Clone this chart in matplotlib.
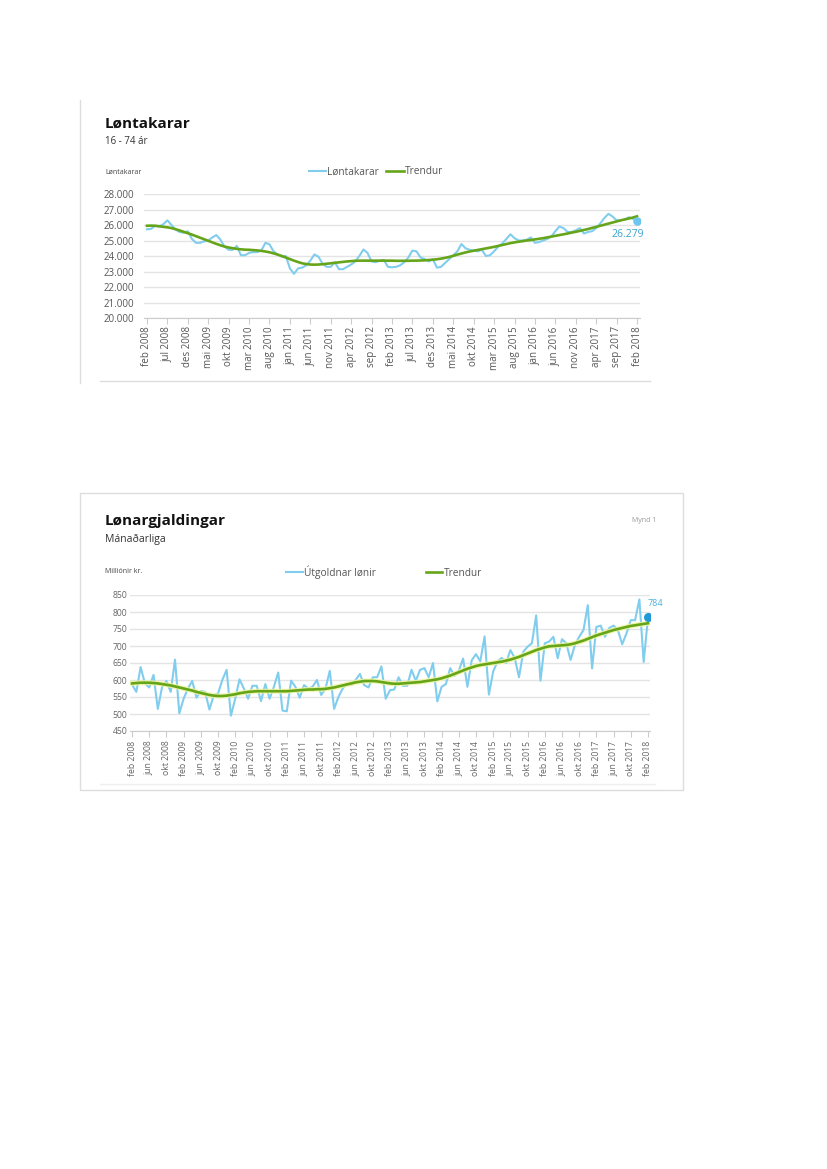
import matplotlib
matplotlib.use("Agg")
import matplotlib.pyplot as plt
from matplotlib.lines import Line2D
from matplotlib.patches import Rectangle
import numpy as np

plt.rcParams['font.family'] = ['Open Sans', 'DejaVu Sans']

# Løntakarar, monthly feb 2008 - feb 2018
lontakarar = [
    25720, 25750, 25950, 25900, 26050, 26300, 26000, 25700, 25550, 25500, 25600,
    25100, 24850, 24850, 24950, 25000, 25200, 25350, 25050, 24600, 24400, 24400, 24650,
    24050, 24050, 24200, 24250, 24250, 24350, 24850, 24750, 24300, 24100, 23950, 24000,
    23200, 22850, 23200, 23250, 23400, 23700, 24100, 23950, 23500, 23300, 23300, 23600,
    23150, 23150, 23300, 23450, 23650, 24000, 24420, 24200, 23650, 23600, 23700, 23750,
    23300, 23270, 23300, 23400, 23600, 23900, 24350, 24300, 23900, 23800, 23650, 23800,
    23250, 23300, 23550, 23800, 24050, 24300, 24770, 24500, 24400, 24350, 24300, 24400,
    24000, 24050, 24300, 24600, 24800, 25100, 25400, 25150, 25000, 25000, 25050, 25200,
    24850, 24900, 25000, 25100, 25250, 25600, 25900, 25800, 25550, 25550, 25650, 25800,
    25450, 25550, 25600, 25800, 26100, 26450, 26720, 26550, 26300, 26300, 26350, 26500,
    26400, 26279,
]
lontakarar_trend = [
    25950, 25960, 25950, 25920, 25880, 25850, 25800, 25730, 25650, 25560, 25470,
    25380, 25280, 25180, 25080, 24980, 24880, 24780, 24690, 24610, 24550, 24500, 24460,
    24430, 24410, 24400, 24380, 24360, 24330, 24290, 24240, 24170, 24090, 24000, 23900,
    23800, 23700, 23610, 23530, 23480, 23450, 23440, 23450, 23470, 23500, 23530, 23560,
    23590, 23620, 23650, 23670, 23690, 23700, 23700, 23700, 23700, 23700, 23700, 23700,
    23700, 23700, 23690, 23690, 23690, 23690, 23700, 23700, 23710, 23720, 23740, 23760,
    23790, 23830, 23880, 23940, 24010, 24090, 24160, 24230, 24290, 24340, 24390, 24440,
    24490, 24540, 24590, 24650, 24710, 24770, 24830, 24880, 24920, 24960, 25000, 25030,
    25070, 25110, 25150, 25200, 25250, 25300, 25350, 25400, 25450, 25510, 25560, 25620,
    25680, 25740, 25810, 25880, 25950, 26020, 26090, 26160, 26230, 26300, 26360, 26420,
    26480, 26560,
]
lontakarar_xlabels = ['feb 2008', 'jul 2008', 'des 2008', 'mai 2009', 'okt 2009',
                      'mar 2010', 'aug 2010', 'jan 2011', 'jun 2011', 'nov 2011',
                      'apr 2012', 'sep 2012', 'feb 2013', 'jul 2013', 'des 2013',
                      'mai 2014', 'okt 2014', 'mar 2015', 'aug 2015', 'jan 2016',
                      'jun 2016', 'nov 2016', 'apr 2017', 'sep 2017', 'feb 2018']
lontakarar_yticks = [20000, 21000, 22000, 23000, 24000, 25000, 26000, 27000, 28000]

# Lønargjaldingar (milliónir kr.), monthly feb 2008 - feb 2018
lonir = [
    587, 565, 638, 590, 578, 615, 515, 580, 597, 565, 660,
    502, 545, 575, 597, 548, 568, 565, 513, 555, 560, 600, 630,
    495, 545, 602, 575, 545, 583, 583, 538, 588, 545, 580, 622,
    510, 508, 598, 580, 548, 585, 575, 580, 600, 556, 575, 627,
    515, 550, 575, 590, 585, 600, 618, 585, 578, 608, 608, 640,
    545, 570, 572, 608, 583, 583, 630, 598, 630, 635, 608, 650,
    537, 580, 588, 635, 612, 627, 663, 580, 658, 676, 655, 728,
    557, 625, 655, 665, 650, 688, 665, 608, 683, 698, 708, 790,
    598, 708, 713, 727, 664, 720, 708, 659, 703, 727, 747, 820,
    634, 756, 760, 727, 753, 760, 747, 705, 737, 776, 776, 837,
    653, 784,
]
lonir_trend = [
    590, 591, 592, 592, 592, 591, 590, 588, 586, 584, 581,
    578, 575, 572, 569, 565, 562, 559, 556, 554, 553, 553, 554,
    556, 558, 561, 563, 565, 566, 567, 567, 567, 567, 567, 567,
    567, 567, 568, 569, 570, 571, 572, 572, 573, 573, 574, 576,
    578, 581, 584, 587, 590, 593, 595, 597, 597, 597, 596, 594,
    592, 590, 589, 589, 590, 591, 592, 593, 594, 596, 598, 600,
    602, 605, 609, 613, 618, 623, 628, 633, 637, 641, 644, 646,
    648, 650, 652, 654, 657, 660, 664, 668, 673, 678, 683, 688,
    692, 696, 699, 700, 701, 702, 703, 705, 708, 712, 716, 721,
    726, 731, 735, 739, 743, 747, 750, 753, 756, 759, 761, 763,
    765, 767,
]
lonir_xlabels = ['feb 2008', 'jun 2008', 'okt 2008', 'feb 2009', 'jun 2009', 'okt 2009',
                 'feb 2010', 'jun 2010', 'okt 2010', 'feb 2011', 'jun 2011', 'okt 2011',
                 'feb 2012', 'jun 2012', 'okt 2012', 'feb 2013', 'jun 2013', 'okt 2013',
                 'feb 2014', 'jun 2014', 'okt 2014', 'feb 2015', 'jun 2015', 'okt 2015',
                 'feb 2016', 'jun 2016', 'okt 2016', 'feb 2017', 'jun 2017', 'okt 2017',
                 'feb 2018']
lonir_yticks = [450, 500, 550, 600, 650, 700, 750, 800, 850]

BLUE = '#80cdee'
GREEN = '#66a51a'
GRID = '#e4e4e4'
TXT = '#555555'
FRAME = '#dddddd'

W, H = 827, 1169
fig = plt.figure(figsize=(W / 100, H / 100), dpi=100)


def fx(px):
    return px / W


def fy(py):
    return 1 - py / H


def axes_px(x0, y0, x1, y1):
    return fig.add_axes([fx(x0), fy(y1), fx(x1) - fx(x0), fy(y0) - fy(y1)])


def style(ax, fs, ypad, xpad, lblcolor):
    for s in ['top', 'right', 'left']:
        ax.spines[s].set_visible(False)
    ax.spines['bottom'].set_color('#cccccc')
    ax.yaxis.grid(True, color=GRID, lw=1.0)
    ax.set_axisbelow(True)
    ax.tick_params(axis='y', length=0, pad=ypad, labelsize=fs, labelcolor=lblcolor)
    ax.tick_params(axis='x', length=4, color='#cccccc', pad=xpad, labelsize=fs,
                   labelcolor=lblcolor, labelrotation=90)


# ---------- chart 1 ----------
fig.add_artist(Line2D([fx(80), fx(80)], [fy(100), fy(383)], color=FRAME, lw=1))
fig.add_artist(Line2D([fx(100), fx(650)], [fy(381), fy(381)], color=FRAME, lw=1))

fig.text(fx(105), fy(124), 'Løntakarar', fontsize=11, weight='bold', va='center', color='#111111')
fig.text(fx(105), fy(142), '16 - 74 ár', fontsize=7, va='center', color='#333333')
fig.text(fx(105), fy(172), 'Løntakarar', fontsize=5, va='center', color='#444444')

ax1 = axes_px(144, 194, 640, 318)
x1 = np.arange(len(lontakarar))
ax1.plot(x1, lontakarar, color=BLUE, lw=1.5, label='Løntakarar')
ax1.plot(x1, lontakarar_trend, color=GREEN, lw=1.9, label='Trendur')
ax1.scatter([x1[-1]], [lontakarar[-1]], s=26, color='#6cc6ee', zorder=5)
ax1.annotate('26.279', xy=(x1[-1], lontakarar[-1]), xytext=(-7, -10),
             textcoords='offset points', ha='center', va='center', fontsize=7.5,
             color='#3aa3d0', arrowprops=dict(arrowstyle='-', color='#aaaaaa', lw=0.6,
                                              shrinkA=4, shrinkB=3))
ax1.set_xlim(-0.73, 120.73)
ax1.set_ylim(20000, 28000)
ax1.set_yticks(lontakarar_yticks)
ax1.set_yticklabels([f'{v:,}'.replace(',', '.') for v in lontakarar_yticks])
ax1.set_xticks(np.arange(0, 121, 5))
ax1.set_xticklabels(lontakarar_xlabels)
style(ax1, 7, 7, 2, TXT)
ax1.legend(loc='center', bbox_to_anchor=(fx(376), fy(172)), bbox_transform=fig.transFigure,
           ncol=2, frameon=False, fontsize=7.3, handlelength=1.7, handletextpad=0.1,
           columnspacing=0.7, labelcolor=TXT)

# ---------- chart 2 ----------
fig.add_artist(Rectangle((fx(80), fy(790)), fx(683) - fx(80), fy(493) - fy(790),
                         fill=False, edgecolor=FRAME, lw=1))
fig.add_artist(Line2D([fx(100), fx(655)], [fy(784), fy(784)], color='#eeeeee', lw=1))

fig.text(fx(105), fy(521), 'Lønargjaldingar', fontsize=11, weight='bold', va='center', color='#111111')
fig.text(fx(105), fy(539), 'Mánaðarliga', fontsize=7.5, va='center', color='#333333')
fig.text(fx(656), fy(521), 'Mynd 1', fontsize=5, va='center', ha='right', color='#999999')
fig.text(fx(105), fy(572), 'Milliónir kr.', fontsize=5, va='center', color='#444444')

ax2 = axes_px(130, 595, 650, 731)
x2 = np.arange(len(lonir))
ax2.plot(x2, lonir, color=BLUE, lw=1.5, label='Útgoldnar lønir')
ax2.plot(x2, lonir_trend, color='#eef59c', lw=3.6, alpha=0.85)
ax2.plot(x2, lonir_trend, color=GREEN, lw=1.9, label='Trendur')
ax2.scatter([x2[-1]], [lonir[-1]], s=30, color='#1f9ad6', zorder=5)
ax2.annotate('784', xy=(x2[-1], lonir[-1]), xytext=(5, 10), textcoords='offset points',
             ha='center', va='center', fontsize=6.5, color='#4aaedc')
ax2.set_xlim(-0.47, 120.47)
ax2.set_ylim(450, 850)
ax2.set_yticks(lonir_yticks)
ax2.set_xticks(np.arange(0, 121, 4))
ax2.set_xticklabels(lonir_xlabels)
style(ax2, 6.2, 2, 3, '#666666')
ax2.legend(loc='center', bbox_to_anchor=(fx(384), fy(572)), bbox_transform=fig.transFigure,
           ncol=2, frameon=False, fontsize=7.3, handlelength=1.6, handletextpad=0.1,
           columnspacing=5.0, labelcolor=TXT)

fig.savefig('out.png', dpi=100, facecolor='white')
